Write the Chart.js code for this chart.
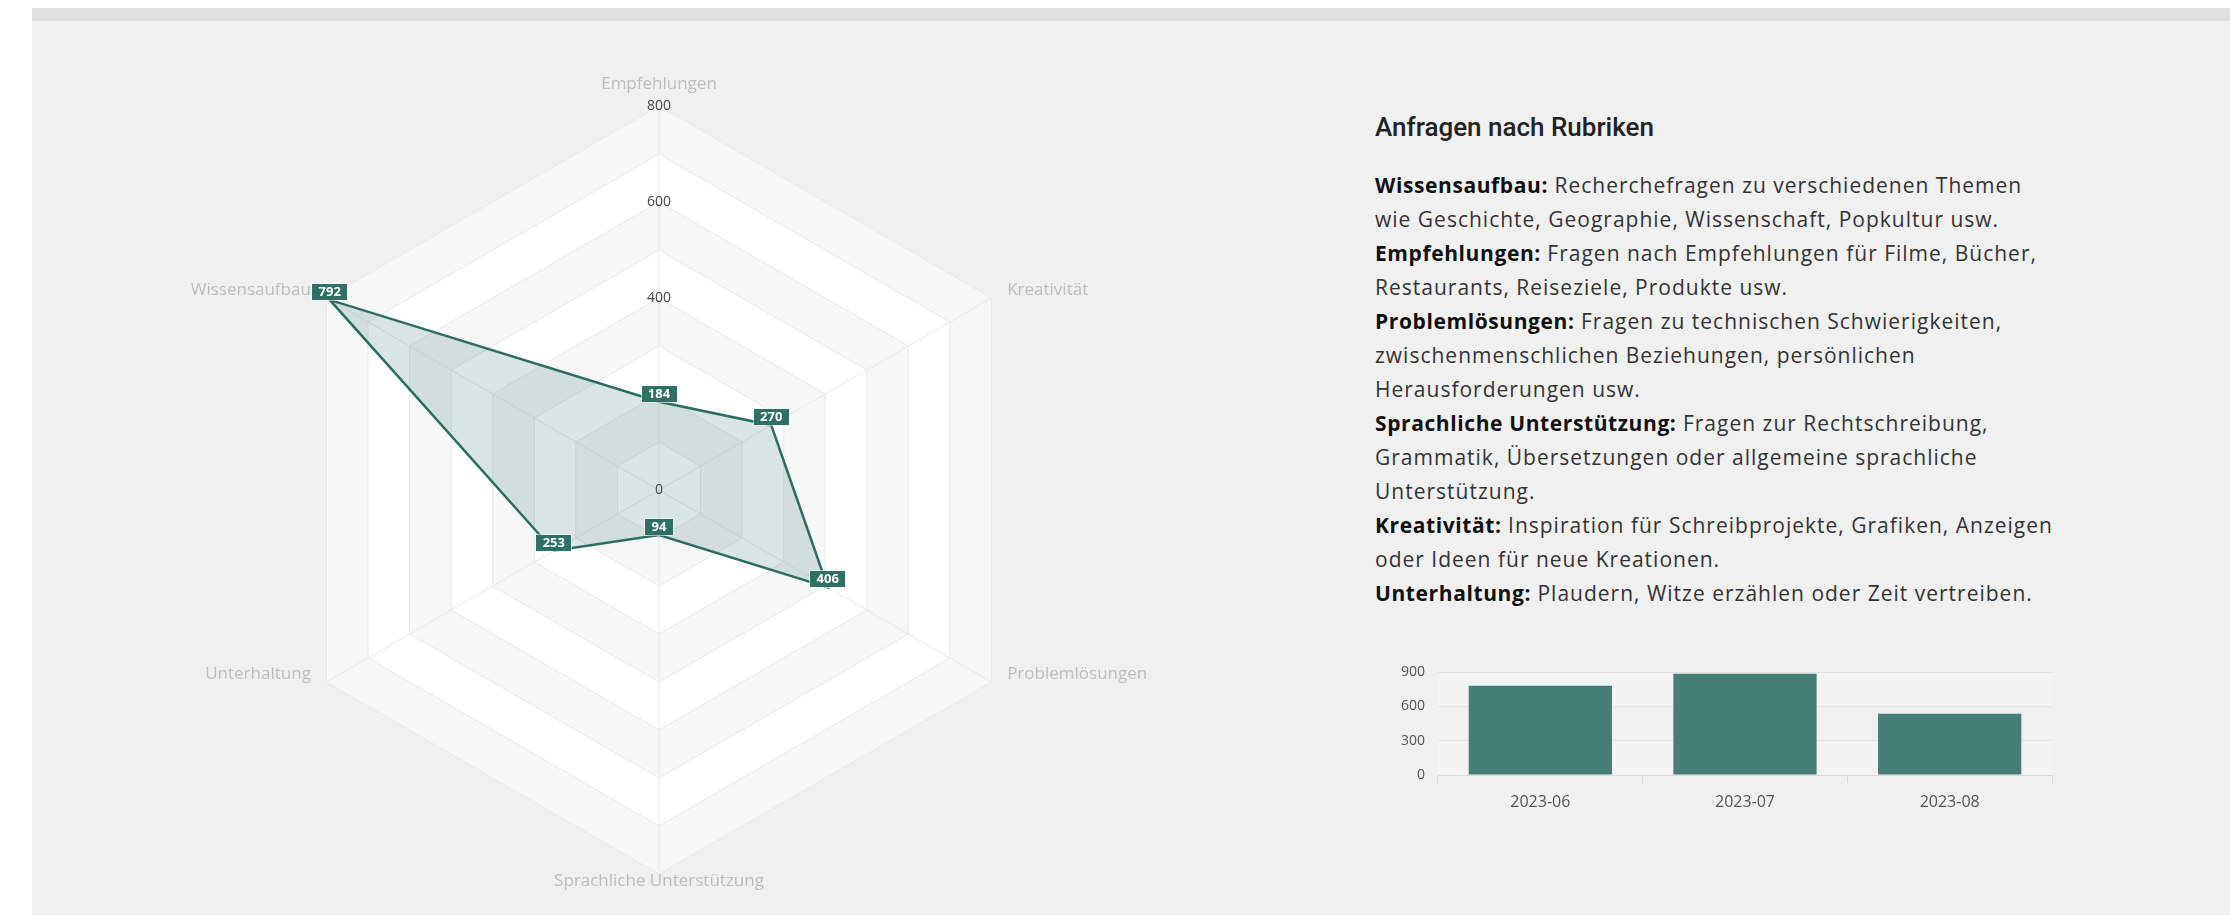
<!DOCTYPE html>
<html lang="de">
<head>
<meta charset="UTF-8">
<title>Anfragen nach Rubriken</title>
<script src="https://cdn.jsdelivr.net/npm/chart.js@4.4.0/dist/chart.umd.min.js"></script>
<style>
  html, body { margin: 0; padding: 0; background: #fff; width: 2230px; height: 918px; overflow: hidden; }
  .topbar { position: absolute; left: 32px; top: 8px; width: 2198px; height: 13px; background: #dfdfdf; }
  .panel { position: absolute; left: 32px; top: 21px; width: 2198px; height: 894px; background: #f0f0f0; }
  #radar { position: absolute; left: 32px; top: 56px; }
  #bars { position: absolute; left: 1360px; top: 650px; }
  .title { position: absolute; left: 1375px; top: 114px; font: 500 26px/26px Roboto, sans-serif; color: #222; white-space: nowrap; }
  .info { position: absolute; left: 1375px; top: 168px; font: 400 21px/34px "Open Sans", sans-serif; letter-spacing: 1px; color: #333; white-space: nowrap; }
  .info b { color: #111; font-weight: 700; letter-spacing: 0.6px; }
</style>
</head>
<body>
<div class="topbar"></div>
<div class="panel"></div>
<canvas id="radar" width="1254" height="862"></canvas>
<div class="title">Anfragen nach Rubriken</div>
<div class="info">
  <b>Wissensaufbau:</b> Recherchefragen zu verschiedenen Themen<br>
  wie Geschichte, Geographie, Wissenschaft, Popkultur usw.<br>
  <b>Empfehlungen:</b> Fragen nach Empfehlungen für Filme, Bücher,<br>
  Restaurants, Reiseziele, Produkte usw.<br>
  <b>Problemlösungen:</b> Fragen zu technischen Schwierigkeiten,<br>
  zwischenmenschlichen Beziehungen, persönlichen<br>
  Herausforderungen usw.<br>
  <b>Sprachliche Unterstützung:</b> Fragen zur Rechtschreibung,<br>
  Grammatik, Übersetzungen oder allgemeine sprachliche<br>
  Unterstützung.<br>
  <b>Kreativität:</b> Inspiration für Schreibprojekte, Grafiken, Anzeigen<br>
  oder Ideen für neue Kreationen.<br>
  <b>Unterhaltung:</b> Plaudern, Witze erzählen oder Zeit vertreiben.
</div>
<canvas id="bars" width="700" height="175"></canvas>
<script>
// radar: requests per category
const radarLabels = ['Empfehlungen', 'Kreativität', 'Problemlösungen', 'Sprachliche Unterstützung', 'Unterhaltung', 'Wissensaufbau'];
const radarValues = [184, 270, 406, 94, 253, 792];
const radarTicks = [0, 200, 400, 600, 800];

// bars: requests per month
const months = ['2023-06', '2023-07', '2023-08'];
const monthTotals = [780, 885, 535];
const barTicks = [0, 300, 600, 900];

const teal = '#2c6d61';

const radarDecor = {
  id: 'radarDecor',
  // alternating white / light grey rings behind the grid
  beforeDraw(chart) {
    const s = chart.scales.r;
    const ctx = chart.ctx;
    const vals = s.ticks.map(t => t.value).filter(v => v > 0).sort((a, b) => b - a);
    ctx.save();
    vals.forEach((v, k) => {
      ctx.beginPath();
      for (let i = 0; i < radarLabels.length; i++) {
        const p = s.getPointPositionForValue(i, v);
        if (i === 0) ctx.moveTo(p.x, p.y); else ctx.lineTo(p.x, p.y);
      }
      ctx.closePath();
      ctx.fillStyle = k % 2 === 0 ? '#f7f7f7' : '#ffffff';
      ctx.fill();
    });
    ctx.restore();
  },
  beforeDatasetsDraw(chart) {
    const s = chart.scales.r;
    const ctx = chart.ctx;
    ctx.save();
    // tick numbers along the top axis (0 included)
    ctx.font = '14px "Open Sans", sans-serif';
    ctx.fillStyle = '#444';
    ctx.textAlign = 'center';
    ctx.textBaseline = 'middle';
    radarTicks.forEach(v => {
      ctx.fillText(String(v), s.xCenter, s.yCenter - s.getDistanceFromCenterForValue(v));
    });
    // category names around the outer ring
    ctx.font = '17px "Open Sans", sans-serif';
    ctx.fillStyle = '#bdbdbd';
    ctx.textBaseline = 'alphabetic';
    radarLabels.forEach((name, i) => {
      const vtx = s.getPointPosition(i, s.drawingArea);
      const p = s.getPointPosition(i, s.drawingArea + 18);
      const dx = p.x - s.xCenter;
      if (Math.abs(dx) < 1) {
        ctx.textAlign = 'center';
        const above = p.y < s.yCenter;
        ctx.fillText(name, p.x, above ? vtx.y - 17 : vtx.y + 12);
      } else {
        ctx.textAlign = dx > 0 ? 'left' : 'right';
        ctx.fillText(name, p.x, vtx.y - 3);
      }
    });
    ctx.restore();
  },
  // value boxes sitting on each point
  afterDatasetsDraw(chart) {
    const ctx = chart.ctx;
    const meta = chart.getDatasetMeta(0);
    ctx.save();
    ctx.font = 'bold 13px "Open Sans", sans-serif';
    ctx.textAlign = 'center';
    ctx.textBaseline = 'middle';
    meta.data.forEach((pt, i) => {
      const txt = String(radarValues[i]);
      const w = Math.round(ctx.measureText(txt).width + 13);
      const h = 16;
      const x0 = Math.round(pt.x - w / 2);
      const y0 = Math.round(pt.y - h);
      ctx.fillStyle = '#2e7164';
      ctx.fillRect(x0, y0, w, h);
      ctx.strokeStyle = 'rgba(255,255,255,0.55)';
      ctx.lineWidth = 1;
      ctx.strokeRect(x0 - 0.5, y0 - 0.5, w + 1, h + 1);
      ctx.fillStyle = '#fff';
      ctx.fillText(txt, pt.x, y0 + h / 2 + 0.5);
    });
    ctx.restore();
  }
};

new Chart(document.getElementById('radar'), {
  type: 'radar',
  data: {
    labels: radarLabels,
    datasets: [{
      data: radarValues,
      borderColor: teal,
      borderWidth: 2.5,
      backgroundColor: 'rgba(44,109,97,0.18)',
      fill: true,
      pointRadius: 0,
      pointHoverRadius: 0
    }]
  },
  options: {
    responsive: false,
    animation: false,
    devicePixelRatio: 1,
    layout: { padding: { top: 50, bottom: 44, left: 0, right: 0 } },
    plugins: { legend: { display: false }, tooltip: { enabled: false } },
    scales: {
      r: {
        min: 0,
        max: 800,
        ticks: { display: false, stepSize: 100 },
        grid: { color: '#e8e8e8', lineWidth: 1 },
        angleLines: { color: '#e8e8e8', lineWidth: 1 },
        pointLabels: { display: false }
      }
    }
  },
  plugins: [radarDecor]
});

const barBands = {
  id: 'barBands',
  beforeDraw(chart) {
    const y = chart.scales.y;
    const a = chart.chartArea;
    const ctx = chart.ctx;
    ctx.save();
    ctx.fillStyle = '#f3f3f3';
    for (let i = 0; i < barTicks.length - 1; i += 2) {
      const top = y.getPixelForValue(barTicks[barTicks.length - 1 - i]);
      const bot = y.getPixelForValue(barTicks[barTicks.length - 2 - i]);
      ctx.fillRect(a.left, top, a.right - a.left, bot - top);
    }
    ctx.restore();
  }
};

new Chart(document.getElementById('bars'), {
  type: 'bar',
  data: {
    labels: months,
    datasets: [{
      data: monthTotals,
      backgroundColor: '#467d74',
      barPercentage: 0.7,
      categoryPercentage: 1
    }]
  },
  options: {
    responsive: false,
    animation: false,
    devicePixelRatio: 1,
    layout: { padding: { top: 22, right: 8, left: 0, bottom: 0 } },
    plugins: { legend: { display: false }, tooltip: { enabled: false } },
    scales: {
      x: {
        afterFit: s => { s.height = 50; },
        grid: { drawOnChartArea: false, drawTicks: true, tickLength: 8, color: '#d9d9d9' },
        border: { display: true, color: '#dadada' },
        ticks: { color: '#555', padding: 10, font: { family: '"Open Sans", sans-serif', size: 16 } }
      },
      y: {
        min: 0,
        max: 900,
        afterFit: s => { s.width = 78; },
        afterBuildTicks: s => { s.ticks = barTicks.map(v => ({ value: v })); },
        grid: { color: '#e3e3e3', drawTicks: false },
        border: { display: false },
        ticks: { color: '#555', padding: 13, font: { family: '"Open Sans", sans-serif', size: 14 } }
      }
    }
  },
  plugins: [barBands]
});
</script>
</body>
</html>
